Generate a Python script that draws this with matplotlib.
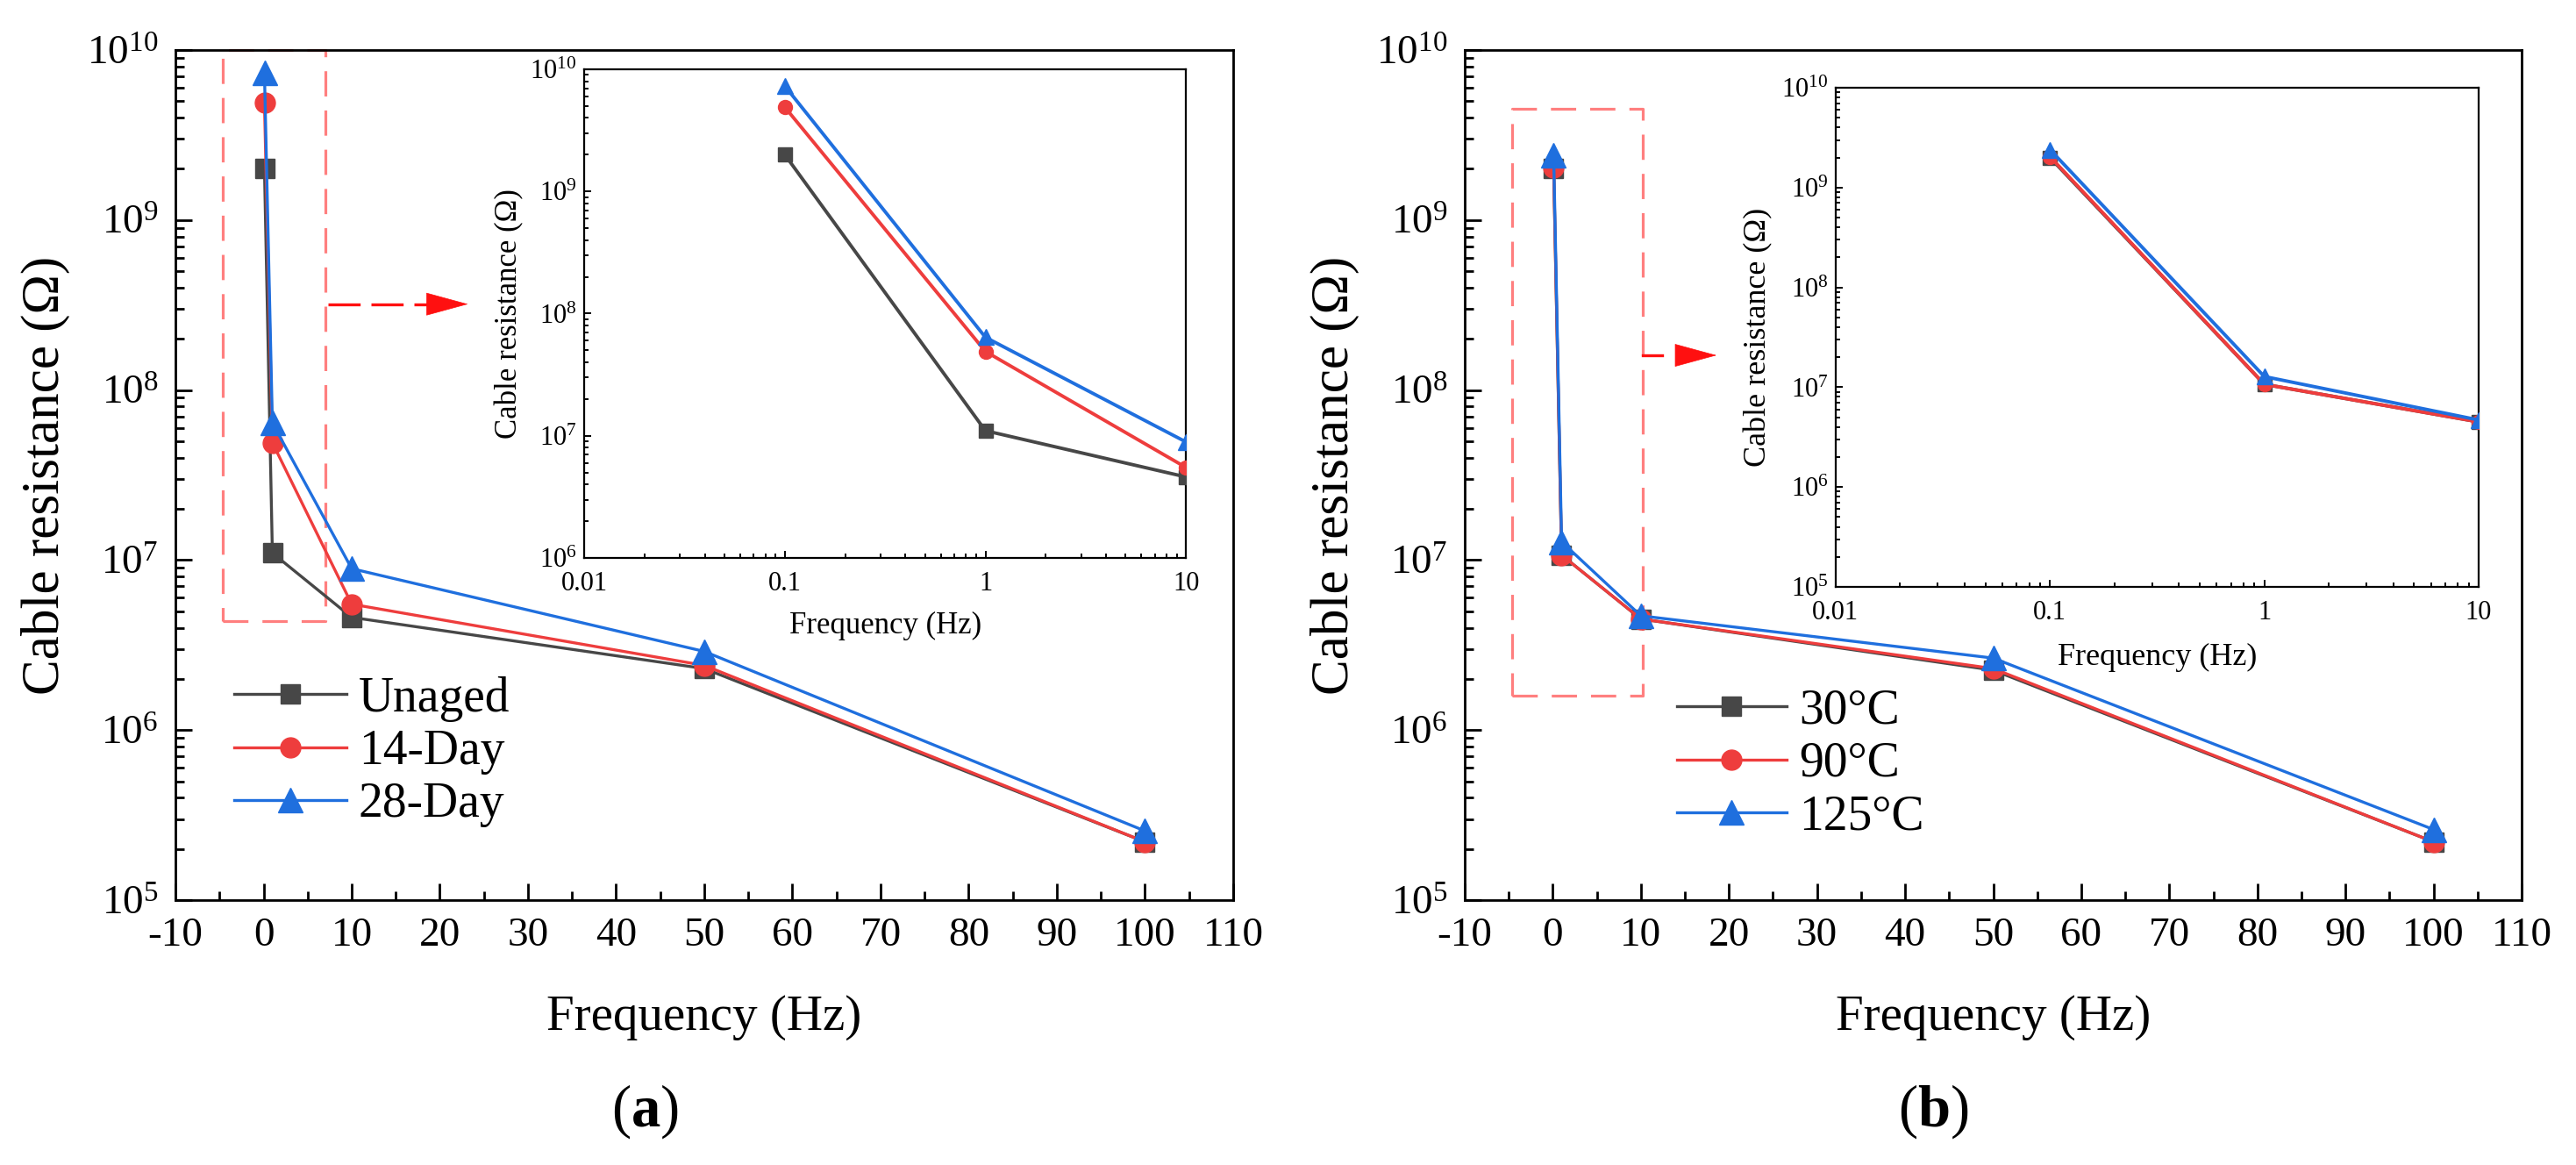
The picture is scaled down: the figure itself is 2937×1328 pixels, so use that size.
import matplotlib
matplotlib.use('Agg')
import matplotlib.pyplot as plt
from matplotlib.ticker import LogLocator, MultipleLocator, NullFormatter

plt.rcParams['font.family'] = ['Liberation Serif', 'DejaVu Serif']
plt.rcParams['mathtext.fontset'] = 'custom'
plt.rcParams['mathtext.rm'] = 'Liberation Serif'
plt.rcParams['mathtext.it'] = 'Liberation Serif:italic'
plt.rcParams['mathtext.bf'] = 'Liberation Serif:bold'
plt.rcParams['axes.unicode_minus'] = False

# data
freq = [0.1, 1, 10, 50, 100]
unaged = [2.0e9, 1.1e7, 4.6e6, 2.3e6, 2.2e5]
day14 = [4.9e9, 4.9e7, 5.5e6, 2.4e6, 2.2e5]
day28 = [7.3e9, 6.4e7, 8.9e6, 2.9e6, 2.55e5]
t30 = [2.0e9, 1.07e7, 4.5e6, 2.25e6, 2.2e5]
t90 = [2.04e9, 1.07e7, 4.5e6, 2.3e6, 2.2e5]
t125 = [2.4e9, 1.28e7, 4.7e6, 2.65e6, 2.6e5]

labels_a = ['Unaged', '14-Day', '28-Day']
labels_b = ['30°C', '90°C', '125°C']
inset_ticks = [0.01, 0.1, 1, 10]
inset_ticklabels = ['0.01', '0.1', '1', '10']

colors = ['#474747', '#EE3D3D', '#1F6FDE']
markers = ['s', 'o', '^']
msizes = [16, 16.5, 20]
inset_msizes = [11, 11.5, 13]


def style_main(ax, ylab_x):
    ax.set_yscale('log')
    ax.set_xlim(-10, 110)
    ax.set_ylim(1e5, 1e10)
    ax.xaxis.set_major_locator(MultipleLocator(10))
    ax.xaxis.set_minor_locator(MultipleLocator(5))
    ax.yaxis.set_major_locator(LogLocator(base=10, numticks=10))
    ax.yaxis.set_minor_locator(LogLocator(base=10, subs=range(2, 10), numticks=20))
    ax.yaxis.set_minor_formatter(NullFormatter())
    ax.tick_params(which='both', direction='in', top=False, right=False, width=2.0, labelsize=34)
    ax.tick_params(which='major', length=13.5)
    ax.tick_params(which='minor', length=7)
    ax.tick_params(axis='x', which='major', pad=14)
    ax.tick_params(axis='y', which='major', pad=14)
    for s in ax.spines.values():
        s.set_linewidth(2.0)
    ax.set_xlabel('Frequency (Hz)', fontsize=41, va='center')
    ax.set_ylabel('Cable resistance (Ω)', fontsize=44, va='center')
    ax.xaxis.set_label_coords(0.5, -0.1385)
    ax.yaxis.set_label_coords(ylab_x, 0.5)


def style_inset(ax, ymin, lab_size, ylab_x, xlab_y):
    ax.set_xscale('log')
    ax.set_yscale('log')
    ax.set_xlim(0.01, 10)
    ax.set_ylim(ymin, 1e10)
    ax.set_xticks(inset_ticks)
    ax.set_xticklabels(inset_ticklabels)
    ax.xaxis.set_minor_locator(LogLocator(base=10, subs=range(2, 10), numticks=20))
    ax.xaxis.set_minor_formatter(NullFormatter())
    ax.yaxis.set_major_locator(LogLocator(base=10, numticks=10))
    ax.yaxis.set_minor_locator(LogLocator(base=10, subs=range(2, 10), numticks=20))
    ax.yaxis.set_minor_formatter(NullFormatter())
    ax.tick_params(which='both', direction='in', top=False, right=False, width=1.4, labelsize=22)
    ax.tick_params(which='major', length=6)
    ax.tick_params(which='minor', length=3.5)
    ax.tick_params(axis='x', which='major', pad=11)
    ax.tick_params(axis='y', which='major', pad=6)
    for s in ax.spines.values():
        s.set_linewidth(1.6)
    ax.set_xlabel('Frequency (Hz)', fontsize=lab_size, va='center')
    ax.set_ylabel('Cable resistance (Ω)', fontsize=lab_size, va='center')
    ax.xaxis.set_label_coords(0.5, xlab_y)
    ax.yaxis.set_label_coords(ylab_x, 0.5)


fig = plt.figure(figsize=(29.37, 13.28), dpi=100)
ax1 = fig.add_axes([0.0681, 0.2274, 0.4106, 0.7297])
ax2 = fig.add_axes([0.5686, 0.2274, 0.4103, 0.7297])
ins1 = fig.add_axes([0.2268, 0.5211, 0.2336, 0.4194])
ins2 = fig.add_axes([0.7126, 0.4962, 0.2496, 0.4285])

series_a = [unaged, day14, day28]
series_b = [t30, t90, t125]

for ax, series, labels in [(ax1, series_a, labels_a), (ax2, series_b, labels_b)]:
    style_main(ax, -0.1227)
    for vals, lab, c, m, ms in zip(series, labels, colors, markers, msizes):
        ax.plot(freq, vals, color=c, marker=m, markersize=ms, lw=2.4, label=lab, zorder=3)

for ax, series, ymin, ls, yx, xy in [(ins1, series_a, 1e6, 25, -0.124, -0.140),
                                     (ins2, series_b, 1e5, 26, -0.120, -0.142)]:
    style_inset(ax, ymin, ls, yx, xy)
    for vals, c, m, ms in zip(series, colors, markers, inset_msizes):
        ax.plot(freq[:3], vals[:3], color=c, marker=m, markersize=ms, lw=2.8, zorder=3)

# zoom boxes and arrows
box_color = '#FF7F7F'
ax1.plot([-4.63, 6.97, 6.97, -4.63, -4.63], [4.36e6, 4.36e6, 1.0e10, 1.0e10, 4.36e6], ls='--',
         dashes=(9, 5), color=box_color, lw=2.3, clip_on=False, zorder=2)
ax2.plot([-4.67, 10.17, 10.17, -4.67, -4.67], [1.6e6, 1.6e6, 4.5e9, 4.5e9, 1.6e6], ls='--',
         dashes=(9, 5), color=box_color, lw=2.3, clip_on=False, zorder=2)

ax1.plot([7.27, 20.0], [3.2e8, 3.2e8], ls='--', dashes=(11, 3.7), color='#FF1010', lw=2.4)
ax1.annotate('', xy=(23.2, 3.2e8), xytext=(19.8, 3.2e8),
             arrowprops=dict(arrowstyle='-|>,head_length=1.65,head_width=0.45', color='#FF1010',
                             lw=0.5, mutation_scale=20, shrinkA=0, shrinkB=0))
ax2.plot([10.17, 12.4], [1.6e8, 1.6e8], color='#FF1010', lw=2.4)
ax2.annotate('', xy=(18.6, 1.6e8), xytext=(14.9, 1.6e8),
             arrowprops=dict(arrowstyle='-|>,head_length=1.65,head_width=0.45', color='#FF1010',
                             lw=0.5, mutation_scale=20, shrinkA=0, shrinkB=0))

ax1.legend(loc='center left', bbox_to_anchor=(0.0556, 0.1744), frameon=False, fontsize=40,
           handlelength=2.3, handletextpad=0.25, labelspacing=0.15, borderpad=0, borderaxespad=0)
ax2.legend(loc='center left', bbox_to_anchor=(0.2008, 0.160), frameon=False, fontsize=40,
           handlelength=2.25, handletextpad=0.25, labelspacing=0.15, borderpad=0, borderaxespad=0)

fig.text(0.2503, 0.046, r'($\mathbf{a}$)', fontsize=48, ha='center', va='center')
fig.text(0.7504, 0.046, r'($\mathbf{b}$)', fontsize=48, ha='center', va='center')

fig.savefig('out.png', dpi=100)
